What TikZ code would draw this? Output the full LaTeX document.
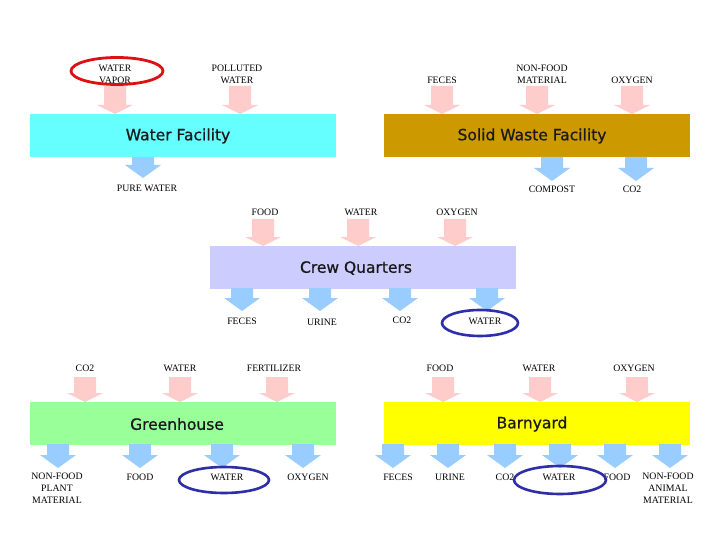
\documentclass[tikz,border=0pt]{standalone}
\usepackage{fontspec}
\setmainfont{Liberation Serif}
\newfontfamily\titlefont[FakeBold=0.8]{DejaVu Sans}
\usetikzlibrary{positioning}
\definecolor{pinkarrow}{HTML}{FFCCCC}
\definecolor{bluearrow}{HTML}{99CCFF}
\definecolor{cyanbox}{HTML}{66FFFF}
\definecolor{goldbox}{HTML}{CC9900}
\definecolor{crewbox}{HTML}{CCCCFF}
\definecolor{greenbox}{HTML}{99FF99}
\definecolor{yellowbox}{HTML}{FFFF00}
\definecolor{redring}{HTML}{DD1111}
\definecolor{bluering}{HTML}{2E2EA8}
% #1 colour, #2 x, #3 top y, #4 tip y, #5 head length
\newcommand\blockarr[5]{%
  \fill[#1] ({#2-11},#3) -- ({#2+11},#3) -- ({#2+11},{#4-#5}) -- ({#2+18},{#4-#5})
    -- (#2,#4) -- ({#2-18},{#4-#5}) -- ({#2-11},{#4-#5}) -- cycle;}
\begin{document}
\begin{tikzpicture}[x=1pt,y=-1pt,
  lbl/.style={font=\fontsize{9.8}{12}\selectfont, align=center, inner sep=0pt},
  unit/.style={minimum width=306pt, minimum height=43pt, inner sep=0pt, anchor=north west},
  ttl/.style={font=\titlefont\fontsize{15.5}{18}\selectfont, inner sep=0pt, text=black!90},
  ring/.style={ellipse, draw, line width=2.6pt, inner sep=0pt}]
\useasboundingbox (0,0) rectangle (720,540);
\fill[white] (0,0) rectangle (720,540);

% ---------- top row ----------
\blockarr{pinkarrow}{115}{86}{114}{9}
\blockarr{pinkarrow}{240}{86}{114}{9}
\blockarr{pinkarrow}{442}{86}{114}{9}
\blockarr{pinkarrow}{537}{86}{114}{9}
\blockarr{pinkarrow}{632}{86}{114}{9}
\node[unit, fill=cyanbox] (wf) at (30,114) {};
\node[unit, fill=goldbox] (sw) at (384,114) {};
\node[ttl] (wft) at (178,136) {Water Facility};
\node[ttl] (swt) at (532,136) {Solid Waste Facility};
\blockarr{bluearrow}{143}{157}{178}{13}
\blockarr{bluearrow}{552}{157}{181}{13}
\blockarr{bluearrow}{636}{157}{181}{13}
\node[lbl] (l1) at (115,74) {WATER\\VAPOR};
\node[lbl] (l2) at (237,74) {POLLUTED\\WATER};
\node[lbl] (l3) at (442,80) {FECES};
\node[lbl] (l4) at (542,74) {NON-FOOD\\MATERIAL};
\node[lbl] (l5) at (632,80) {OXYGEN};
\node[lbl] (l6) at (147,188) {PURE WATER};
\node[lbl] (l7) at (552,189) {COMPOST};
\node[lbl] (l8) at (632,189) {CO2};

% ---------- crew quarters ----------
\blockarr{pinkarrow}{263}{219}{246}{9}
\blockarr{pinkarrow}{358}{219}{246}{9}
\blockarr{pinkarrow}{455}{219}{246}{9}
\node[unit, fill=crewbox] (cq) at (210,246) {};
\node[ttl] (cqt) at (356,268) {Crew Quarters};
\blockarr{bluearrow}{242}{288}{311}{13}
\blockarr{bluearrow}{320}{288}{311}{13}
\blockarr{bluearrow}{400}{288}{311}{13}
\blockarr{bluearrow}{487}{288}{311}{13}
\node[lbl] (c1) at (265,212) {FOOD};
\node[lbl] (c2) at (361,212) {WATER};
\node[lbl] (c3) at (457,212) {OXYGEN};
\node[lbl] (c4) at (242,321) {FECES};
\node[lbl] (c5) at (322,322) {URINE};
\node[lbl] (c6) at (402,320) {CO2};
\node[lbl] (c7) at (485,321) {WATER};

% ---------- bottom row ----------
\blockarr{pinkarrow}{85}{377}{402}{9}
\blockarr{pinkarrow}{180}{377}{402}{9}
\blockarr{pinkarrow}{277}{377}{402}{9}
\blockarr{pinkarrow}{443}{377}{402}{9}
\blockarr{pinkarrow}{540}{377}{402}{9}
\blockarr{pinkarrow}{637}{377}{402}{9}
\node[unit, fill=greenbox] (gh) at (30,402) {};
\node[unit, fill=yellowbox] (by) at (384,402) {};
\node[ttl] (ght) at (177,424) {Greenhouse};
\node[ttl] (byt) at (532,424) {Barnyard};
\blockarr{bluearrow}{58}{444}{468}{13}
\blockarr{bluearrow}{140}{444}{468}{13}
\blockarr{bluearrow}{222}{444}{468}{13}
\blockarr{bluearrow}{303}{444}{468}{13}
\blockarr{bluearrow}{393}{444}{468}{13}
\blockarr{bluearrow}{448}{444}{468}{13}
\blockarr{bluearrow}{505}{444}{468}{13}
\blockarr{bluearrow}{560}{444}{468}{13}
\blockarr{bluearrow}{615}{444}{468}{13}
\blockarr{bluearrow}{670}{444}{468}{13}
\node[lbl] (g1) at (85,368) {CO2};
\node[lbl] (g2) at (180,368) {WATER};
\node[lbl] (g3) at (274,368) {FERTILIZER};
\node[lbl] (b1) at (440,368) {FOOD};
\node[lbl] (b2) at (539,368) {WATER};
\node[lbl] (b3) at (634,368) {OXYGEN};
\node[lbl] (g4) at (57,488) {NON-FOOD\\PLANT\\MATERIAL};
\node[lbl] (g5) at (140,477) {FOOD};
\node[lbl] (g6) at (227,477) {WATER};
\node[lbl] (g7) at (308,477) {OXYGEN};
\node[lbl] (b4) at (398,477) {FECES};
\node[lbl] (b5) at (450,477) {URINE};
\node[lbl] (b6) at (505,477) {CO2};
\node[lbl] (b7) at (559,477) {WATER};
\node[lbl] (b8) at (617,477) {FOOD};
\node[lbl] (b9) at (668,488) {NON-FOOD\\ANIMAL\\MATERIAL};

% ---------- rings ----------
\draw[redring, line width=2.8pt] (117,71) ellipse [x radius=46, y radius=13.5];
\draw[bluering, line width=2.6pt] (480,323) ellipse [x radius=38, y radius=13];
\draw[bluering, line width=2.6pt] (224,480) ellipse [x radius=45, y radius=13];
\draw[bluering, line width=2.6pt] (560,480) ellipse [x radius=46, y radius=14];
\end{tikzpicture}
\end{document}
